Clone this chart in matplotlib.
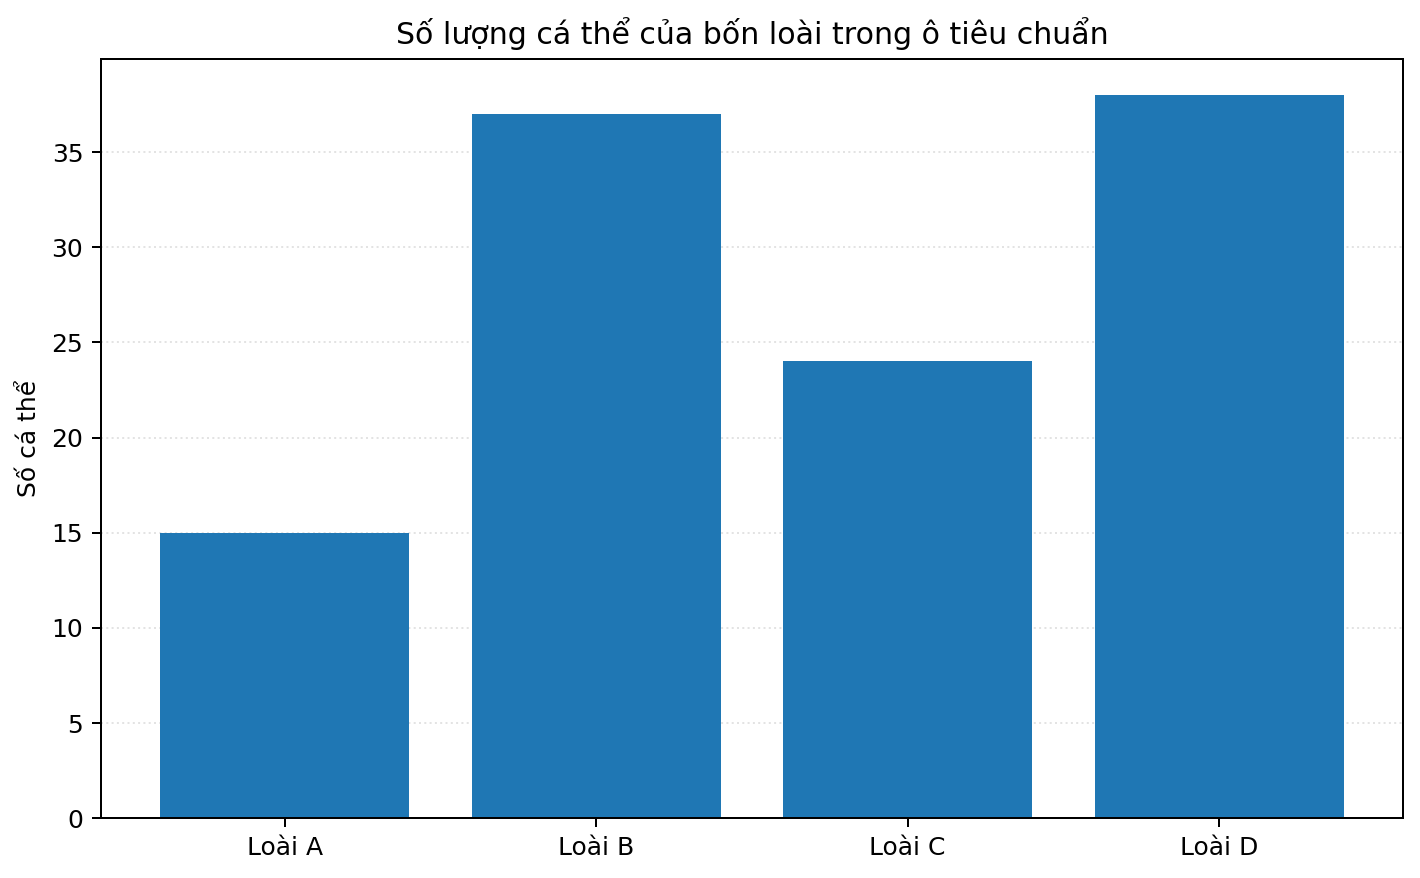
import matplotlib
matplotlib.use("Agg")
import matplotlib.pyplot as plt

# Dữ liệu
loai = ["Loài A", "Loài B", "Loài C", "Loài D"]
so_ca_the = [15, 37, 24, 38]

fig, ax = plt.subplots(figsize=(1420 / 180, 878 / 180), dpi=180)
ax.bar(loai, so_ca_the, color="#1f77b4")
ax.set_title("Số lượng cá thể của bốn loài trong ô tiêu chuẩn")
ax.set_ylabel("Số cá thể")
ax.grid(axis="y", linestyle=":", alpha=0.35)
ax.set_axisbelow(True)
plt.subplots_adjust(left=0.071, right=0.988, top=0.933, bottom=0.068)
plt.savefig("out.png", dpi=180)
